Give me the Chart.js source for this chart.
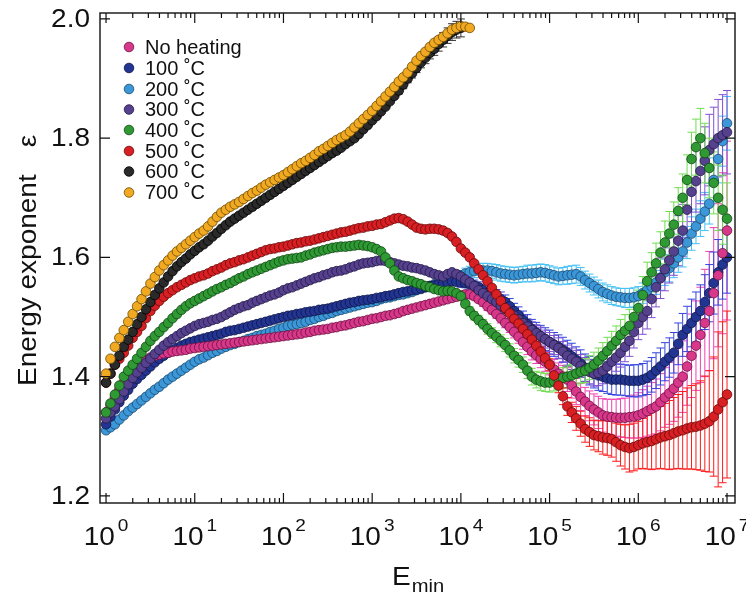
<!DOCTYPE html>
<html><head><meta charset="utf-8">
<script src="https://cdn.jsdelivr.net/npm/chart.js@4.4.0/dist/chart.umd.min.js"></script>
<style>html,body{margin:0;padding:0;background:#fff;}#wrap{width:746px;height:597px;}</style>
</head><body><div id="wrap"><canvas id="c" width="746" height="597"></canvas></div>
<script>
// log10 of E_min sampling grid
const logEmin = [
0,0.05,0.1,0.15,0.2,0.25,0.3,0.35,0.4,0.45,0.5,0.55,0.6,0.65,0.7,0.75,0.8,0.85,0.9,0.95,
1,1.05,1.1,1.15,1.2,1.25,1.3,1.35,1.4,1.45,1.5,1.55,1.6,1.65,1.7,1.75,1.8,1.85,1.9,1.95,
2,2.05,2.1,2.15,2.2,2.25,2.3,2.35,2.4,2.45,2.5,2.55,2.6,2.65,2.7,2.75,2.8,2.85,2.9,2.95,
3,3.05,3.1,3.15,3.2,3.25,3.3,3.35,3.4,3.45,3.5,3.55,3.6,3.65,3.7,3.75,3.8,3.85,3.9,3.95,
4,4.05,4.1,4.15,4.2,4.25,4.3,4.35,4.4,4.45,4.5,4.55,4.6,4.65,4.7,4.75,4.8,4.85,4.9,4.95,
5,5.05,5.1,5.15,5.2,5.25,5.3,5.35,5.4,5.45,5.5,5.55,5.6,5.65,5.7,5.75,5.8,5.85,5.9,5.95,
6,6.05,6.1,6.15,6.2,6.25,6.3,6.35,6.4,6.45,6.5,6.55,6.6,6.65,6.7,6.75,6.8,6.85,6.9,6.95,
7];

const seriesNames = ["No heating","100 \u02DAC","200 \u02DAC","300 \u02DAC","400 \u02DAC","500 \u02DAC","600 \u02DAC","700 \u02DAC"];

const noHeating = [
1.34,1.352,1.365,1.378,1.39,1.4,1.41,1.416,1.422,1.427,1.432,1.435,1.437,1.439,1.44,1.442,1.443,1.444,1.445,1.447,
1.448,1.449,1.45,1.451,1.452,1.453,1.454,1.455,1.456,1.457,1.458,1.459,1.46,1.461,1.462,1.463,1.464,1.465,1.466,1.467,
1.468,1.469,1.47,1.471,1.472,1.474,1.475,1.477,1.478,1.479,1.48,1.482,1.483,1.485,1.486,1.488,1.49,1.492,1.493,1.495,
1.497,1.498,1.5,1.502,1.503,1.505,1.507,1.51,1.512,1.514,1.516,1.518,1.52,1.522,1.524,1.526,1.528,1.53,1.532,1.534,
1.536,1.538,1.538,1.535,1.53,1.525,1.518,1.512,1.505,1.498,1.49,1.483,1.475,1.467,1.458,1.45,1.442,1.436,1.43,1.425,
1.42,1.412,1.405,1.4,1.395,1.385,1.375,1.366,1.358,1.351,1.345,1.34,1.335,1.333,1.332,1.331,1.331,1.331,1.332,1.333,
1.335,1.338,1.342,1.346,1.35,1.357,1.365,1.372,1.38,1.39,1.4,1.417,1.435,1.452,1.47,1.49,1.51,1.54,1.57,1.607,
1.645];
const c100 = [
1.32,1.333,1.345,1.357,1.368,1.378,1.388,1.396,1.403,1.41,1.417,1.424,1.43,1.435,1.44,1.444,1.448,1.452,1.455,1.458,
1.46,1.462,1.464,1.466,1.468,1.47,1.472,1.475,1.477,1.478,1.48,1.482,1.484,1.486,1.488,1.49,1.492,1.494,1.496,1.498,
1.5,1.502,1.503,1.505,1.506,1.508,1.509,1.51,1.512,1.513,1.514,1.516,1.518,1.52,1.522,1.524,1.525,1.527,1.528,1.529,
1.53,1.532,1.533,1.535,1.536,1.538,1.54,1.542,1.543,1.545,1.546,1.548,1.55,1.552,1.553,1.555,1.556,1.558,1.56,1.559,
1.558,1.557,1.555,1.553,1.55,1.545,1.54,1.538,1.535,1.53,1.525,1.518,1.51,1.503,1.495,1.488,1.48,1.474,1.468,1.463,
1.458,1.454,1.45,1.445,1.44,1.434,1.428,1.422,1.415,1.41,1.405,1.402,1.4,1.397,1.395,1.395,1.395,1.394,1.393,1.393,
1.393,1.395,1.398,1.403,1.41,1.417,1.425,1.432,1.44,1.455,1.47,1.48,1.49,1.5,1.51,1.525,1.54,1.557,1.575,1.588,
1.6];
const c200 = [
1.31,1.315,1.32,1.328,1.335,1.342,1.348,1.354,1.36,1.366,1.372,1.378,1.383,1.389,1.395,1.4,1.405,1.41,1.415,1.42,
1.425,1.429,1.432,1.436,1.44,1.443,1.447,1.45,1.453,1.455,1.458,1.46,1.463,1.465,1.468,1.47,1.472,1.475,1.477,1.48,
1.482,1.485,1.487,1.488,1.49,1.492,1.495,1.497,1.5,1.502,1.505,1.507,1.51,1.512,1.514,1.516,1.518,1.52,1.522,1.524,
1.525,1.527,1.53,1.532,1.533,1.535,1.537,1.538,1.54,1.542,1.545,1.547,1.55,1.552,1.555,1.557,1.56,1.562,1.565,1.567,
1.57,1.573,1.575,1.577,1.578,1.578,1.578,1.577,1.575,1.573,1.572,1.571,1.57,1.571,1.572,1.573,1.573,1.574,1.575,1.574,
1.572,1.57,1.568,1.569,1.57,1.571,1.572,1.568,1.562,1.557,1.552,1.547,1.542,1.539,1.536,1.534,1.533,1.532,1.532,1.533,
1.535,1.54,1.545,1.551,1.558,1.566,1.575,1.582,1.59,1.6,1.61,1.625,1.64,1.652,1.665,1.677,1.69,1.73,1.765,1.795,
1.825];
const c300 = [
1.33,1.34,1.35,1.362,1.375,1.387,1.398,1.407,1.415,1.423,1.43,1.438,1.445,1.452,1.458,1.463,1.468,1.473,1.477,1.481,
1.485,1.488,1.49,1.492,1.495,1.497,1.5,1.504,1.508,1.512,1.515,1.518,1.52,1.524,1.527,1.53,1.533,1.536,1.538,1.541,
1.545,1.548,1.55,1.553,1.556,1.559,1.562,1.565,1.567,1.57,1.572,1.575,1.577,1.578,1.58,1.583,1.585,1.588,1.59,1.591,
1.592,1.594,1.595,1.594,1.592,1.59,1.588,1.586,1.585,1.583,1.582,1.58,1.578,1.575,1.572,1.57,1.568,1.572,1.575,1.572,
1.568,1.563,1.558,1.552,1.545,1.54,1.535,1.53,1.525,1.519,1.513,1.508,1.502,1.496,1.49,1.484,1.478,1.473,1.468,1.463,
1.458,1.453,1.448,1.442,1.435,1.43,1.425,1.418,1.412,1.408,1.405,1.406,1.41,1.417,1.425,1.432,1.44,1.45,1.46,1.475,
1.49,1.5,1.51,1.53,1.55,1.565,1.58,1.595,1.61,1.628,1.645,1.68,1.71,1.728,1.745,1.762,1.78,1.79,1.8,1.805,
1.81];
const c400 = [
1.34,1.355,1.37,1.385,1.4,1.41,1.42,1.43,1.44,1.45,1.46,1.468,1.475,1.483,1.49,1.498,1.505,1.512,1.518,1.523,
1.527,1.531,1.535,1.539,1.543,1.547,1.55,1.554,1.557,1.561,1.565,1.568,1.572,1.575,1.578,1.581,1.584,1.587,1.59,1.593,
1.595,1.597,1.598,1.599,1.6,1.603,1.605,1.608,1.61,1.612,1.614,1.616,1.617,1.618,1.618,1.619,1.62,1.621,1.62,1.619,
1.617,1.614,1.61,1.6,1.59,1.578,1.568,1.565,1.562,1.56,1.557,1.555,1.552,1.55,1.547,1.545,1.543,1.544,1.543,1.54,
1.535,1.522,1.51,1.502,1.495,1.488,1.48,1.473,1.467,1.46,1.453,1.444,1.435,1.428,1.42,1.41,1.4,1.395,1.392,1.39,
1.39,1.392,1.395,1.398,1.4,1.402,1.405,1.408,1.41,1.415,1.42,1.427,1.435,1.443,1.452,1.46,1.47,1.477,1.485,1.5,
1.515,1.537,1.56,1.575,1.59,1.608,1.625,1.64,1.655,1.678,1.7,1.73,1.765,1.785,1.8,1.775,1.75,1.725,1.7,1.68,
1.665];
const c500 = [
1.39,1.405,1.42,1.43,1.44,1.452,1.465,1.475,1.485,1.498,1.51,1.519,1.527,1.534,1.54,1.545,1.55,1.554,1.558,1.562,
1.565,1.568,1.57,1.573,1.577,1.58,1.583,1.587,1.59,1.592,1.595,1.597,1.6,1.603,1.606,1.609,1.612,1.614,1.615,1.617,
1.618,1.62,1.622,1.624,1.625,1.627,1.628,1.63,1.632,1.634,1.636,1.638,1.64,1.642,1.643,1.645,1.647,1.649,1.65,1.652,
1.653,1.655,1.656,1.659,1.662,1.665,1.666,1.664,1.66,1.655,1.65,1.648,1.647,1.648,1.648,1.647,1.645,1.641,1.635,1.626,
1.615,1.608,1.6,1.59,1.58,1.57,1.56,1.549,1.538,1.527,1.515,1.506,1.497,1.489,1.48,1.471,1.462,1.452,1.442,1.431,
1.42,1.402,1.385,1.367,1.35,1.34,1.33,1.321,1.312,1.307,1.302,1.3,1.298,1.297,1.295,1.29,1.285,1.282,1.28,1.282,
1.285,1.288,1.29,1.292,1.295,1.298,1.3,1.302,1.305,1.308,1.31,1.313,1.315,1.316,1.318,1.321,1.325,1.333,1.345,1.357,
1.37];
const c600 = [
1.39,1.405,1.42,1.435,1.45,1.462,1.475,1.488,1.5,1.513,1.525,1.537,1.548,1.558,1.568,1.577,1.585,1.592,1.598,1.605,
1.611,1.617,1.622,1.628,1.635,1.641,1.648,1.654,1.66,1.665,1.67,1.675,1.68,1.685,1.69,1.695,1.7,1.705,1.71,1.715,
1.72,1.725,1.73,1.735,1.74,1.745,1.75,1.755,1.76,1.765,1.77,1.775,1.779,1.784,1.79,1.795,1.8,1.807,1.815,1.822,
1.83,1.837,1.845,1.853,1.862,1.871,1.88,1.89,1.9,1.909,1.918,1.927,1.935,1.943,1.95,1.958,1.965,1.972,1.978,1.982,
1.985];
const c700 = [
1.405,1.43,1.45,1.465,1.478,1.492,1.505,1.518,1.53,1.543,1.556,1.567,1.578,1.587,1.595,1.603,1.61,1.616,1.622,1.628,
1.634,1.64,1.645,1.652,1.66,1.668,1.675,1.68,1.685,1.689,1.693,1.698,1.703,1.708,1.712,1.717,1.722,1.726,1.73,1.734,
1.738,1.743,1.748,1.753,1.758,1.762,1.767,1.772,1.778,1.782,1.787,1.792,1.797,1.801,1.805,1.811,1.818,1.825,1.832,1.839,
1.846,1.854,1.862,1.87,1.878,1.886,1.895,1.902,1.91,1.92,1.93,1.938,1.945,1.953,1.96,1.965,1.97,1.976,1.982,1.985,
1.988,1.987,1.985];

// error bar half-lengths, aligned with the LAST points of each series
const errNoHeating = [
0.006,0.006,0.006,0.006,0.006,0.007,0.007,0.007,0.007,0.008,0.008,0.009,0.01,0.011,0.012,0.013,0.014,0.014,0.015,0.016,
0.017,0.017,0.018,0.019,0.02,0.021,0.022,0.023,0.024,0.025,0.026,0.027,0.028,0.029,0.03,0.031,0.032,0.033,0.035,0.036,
0.038,0.04,0.042,0.044,0.046,0.048,0.05,0.052,0.055,0.058,0.06,0.065,0.07,0.075,0.08,0.09,0.1,0.11,0.12,0.135,0.15];
const err100 = [
0.008,0.008,0.008,0.009,0.009,0.01,0.01,0.011,0.011,0.012,0.012,0.013,0.013,0.014,0.015,0.016,0.016,0.017,0.018,0.019,
0.02,0.02,0.02,0.021,0.021,0.022,0.022,0.023,0.023,0.024,0.024,0.025,0.025,0.025,0.025,0.026,0.026,0.026,0.026,0.027,
0.027,0.027,0.028,0.029,0.03,0.031,0.032,0.033,0.034,0.035,0.036,0.038,0.04,0.042,0.044,0.046,0.048,0.052,0.055,0.058,0.06];
const err200 = [
0.008,0.009,0.01,0.011,0.012,0.012,0.012,0.012,0.013,0.013,0.013,0.013,0.013,0.013,0.013,0.014,0.014,0.014,0.014,0.014,
0.014,0.014,0.014,0.014,0.015,0.015,0.015,0.015,0.015,0.015,0.015,0.015,0.015,0.015,0.015,0.015,0.015,0.016,0.016,0.016,
0.016,0.017,0.018,0.019,0.02,0.021,0.022,0.023,0.024,0.025,0.026,0.027,0.028,0.029,0.03,0.032,0.034,0.037,0.04,0.042,0.045];
const err300 = [
0.006,0.006,0.007,0.007,0.008,0.008,0.009,0.009,0.01,0.01,0.011,0.011,0.012,0.012,0.013,0.013,0.014,0.014,0.015,0.015,
0.016,0.016,0.017,0.017,0.018,0.018,0.019,0.019,0.02,0.02,0.021,0.021,0.022,0.022,0.023,0.023,0.024,0.025,0.026,0.027,
0.028,0.029,0.03,0.031,0.033,0.034,0.036,0.038,0.04,0.042,0.044,0.047,0.05,0.052,0.055,0.057,0.06,0.062,0.065,0.068,0.07];
const err400 = [
0.006,0.006,0.007,0.007,0.008,0.008,0.009,0.009,0.01,0.01,0.011,0.011,0.012,0.012,0.013,0.013,0.014,0.014,0.015,0.015,
0.016,0.016,0.017,0.017,0.018,0.018,0.019,0.019,0.02,0.02,0.021,0.021,0.022,0.023,0.024,0.025,0.026,0.027,0.028,0.029,
0.03,0.031,0.032,0.033,0.034,0.035,0.036,0.037,0.038,0.039,0.04,0.042,0.045,0.047,0.05,0.05,0.05,0.052,0.055,0.058,0.06];
const err500 = [
0.004,0.004,0.004,0.004,0.004,0.004,0.004,0.004,0.005,0.005,0.005,0.005,0.006,0.006,0.006,0.006,0.007,0.007,0.008,0.009,
0.01,0.011,0.012,0.014,0.015,0.017,0.02,0.021,0.022,0.024,0.025,0.026,0.028,0.029,0.03,0.032,0.035,0.037,0.04,0.04,
0.04,0.042,0.045,0.048,0.05,0.052,0.055,0.058,0.06,0.062,0.065,0.068,0.07,0.072,0.075,0.08,0.085,0.1,0.13,0.135,0.14];
const err600 = [0.006,0.007,0.007,0.008,0.008,0.009,0.01,0.01,0.011,0.012,0.012,0.013,0.014,0.014,0.015];
const err700 = [];

const yTicks = [1.2,1.4,1.6,1.8,2.0];
const xTickExp = [0,1,2,3,4,5,6,7];

const allSeries = [noHeating,c100,c200,c300,c400,c500,c600,c700];
const allErr = [errNoHeating,err100,err200,err300,err400,err500,err600,err700];
const fillCol = ["#d8388a","#233592","#3b97d8","#56418f","#2f9a34","#d81f24","#2a2a2a","#f2a922"];
const edgeCol = ["#6a1040","#0e1545","#1a4a70","#241a45","#134515","#6a0a0a","#000000","#6a4a00"];
const barCol  = ["#f040b0","#3344dd","#45c0f5","#8050d0","#70dd50","#ff1a1a","#333333","#c08a10"];
const drawOrder = [5,6,7,4,3,2,1,0];

const datasets = allSeries.map((s,k)=>({
  label: seriesNames[k],
  data: s.map((v,i)=>({x: Math.pow(10, logEmin[i]), y: v})),
  backgroundColor: fillCol[k], borderColor: edgeCol[k], borderWidth: 0.8,
  pointRadius: 4.8, showLine: false, order: drawOrder[k]
}));

function sText(ctx, s, x, y, font, align, sx){
  ctx.save(); ctx.font = font;
  const w = ctx.measureText(s).width * sx;
  const x0 = align==='center' ? x - w/2 : align==='right' ? x - w : x;
  ctx.translate(x0, y); ctx.scale(sx,1); ctx.textAlign='left'; ctx.fillText(s,0,0);
  ctx.restore(); return w;
}

const errPlugin = {
  id:'errbars',
  beforeDatasetsDraw(chart){
    const ctx = chart.ctx, xs = chart.scales.x, ys = chart.scales.y, a = chart.chartArea;
    ctx.save(); ctx.beginPath(); ctx.rect(a.left,a.top,a.right-a.left,a.bottom-a.top); ctx.clip();
    ctx.lineWidth = 1;
    allSeries.forEach((s,k)=>{
      const e = allErr[k]; const off = s.length - e.length;
      ctx.strokeStyle = barCol[k];
      for(let j=0;j<e.length;j++){
        const i = off + j;
        const px = xs.getPixelForValue(Math.pow(10, logEmin[i]));
        const pt = ys.getPixelForValue(s[i] + e[j]);
        const pb = ys.getPixelForValue(s[i] - e[j]);
        ctx.beginPath();
        ctx.moveTo(px, pt); ctx.lineTo(px, pb);
        ctx.moveTo(px-4, pt); ctx.lineTo(px+4, pt);
        ctx.moveTo(px-4, pb); ctx.lineTo(px+4, pb);
        ctx.stroke();
      }
    });
    ctx.restore();
  }
};

const framePlugin = {
  id:'frame',
  afterDraw(chart){
    const ctx = chart.ctx, xs = chart.scales.x, ys = chart.scales.y, a = chart.chartArea;
    ctx.save();
    ctx.strokeStyle = '#111'; ctx.lineWidth = 1.4;
    ctx.strokeRect(a.left, a.top, a.right-a.left, a.bottom-a.top);
    ctx.lineWidth = 1.2;
    ctx.beginPath();
    xTickExp.forEach(p=>{
      for(let m=1;m<=9;m++){
        if(p===7 && m>1) break;
        const px = xs.getPixelForValue(m*Math.pow(10,p));
        const L = m===1 ? 10 : 5;
        ctx.moveTo(px, a.bottom); ctx.lineTo(px, a.bottom-L);
        ctx.moveTo(px, a.top); ctx.lineTo(px, a.top+L);
      }
    });
    yTicks.forEach(v=>{
      const py = ys.getPixelForValue(v);
      ctx.moveTo(a.left, py); ctx.lineTo(a.left+10, py);
      ctx.moveTo(a.right, py); ctx.lineTo(a.right-10, py);
    });
    ctx.stroke();

    ctx.fillStyle = '#111';
    ctx.textBaseline = 'middle';
    yTicks.forEach(v=>{
      const py = ys.getPixelForValue(v);
      sText(ctx, v.toFixed(1), a.left-10, py+1, '25px "Liberation Sans"', 'right', 1.12);
    });
    ctx.textBaseline = 'alphabetic';
    xTickExp.forEach(p=>{
      const px = xs.getPixelForValue(Math.pow(10,p));
      ctx.font = '25px "Liberation Sans"';
      const wb = ctx.measureText('10').width*1.12;
      ctx.font = '17px "Liberation Sans"';
      const we = ctx.measureText(String(p)).width*1.12;
      const x0 = px - (wb + 3 + we)/2;
      sText(ctx, '10', x0, 545, '25px "Liberation Sans"', 'left', 1.12);
      sText(ctx, String(p), x0+wb+3, 531, '17px "Liberation Sans"', 'left', 1.12);
    });
    const wE = sText(ctx, 'E', 392, 585, '25px "Liberation Sans"', 'left', 1.12);
    sText(ctx, 'min', 392+wE+1, 592, '18px "Liberation Sans"', 'left', 1.12);
    ctx.save();
    ctx.translate(36, 386); ctx.rotate(-Math.PI/2);
    const wt = sText(ctx, 'Energy exponent', 0, 0, '25px "Liberation Sans"', 'left', 1.12);
    sText(ctx, '\u03B5', wt+27, 0, '25px "Liberation Sans"', 'left', 1.12);
    ctx.restore();

    const rows = [47,68,89,109.5,130,151,171.5,192.5];
    seriesNames.forEach((n,k)=>{
      ctx.beginPath(); ctx.arc(129, rows[k], 4.8, 0, Math.PI*2);
      ctx.fillStyle = fillCol[k]; ctx.fill();
      ctx.lineWidth = 0.8; ctx.strokeStyle = edgeCol[k]; ctx.stroke();
      ctx.fillStyle = '#111'; ctx.font = '20px "Liberation Sans"';
      ctx.textBaseline = 'middle'; ctx.textAlign = 'left';
      ctx.fillText(n, 145, rows[k]+1);
    });
    ctx.restore();
  }
};

new Chart(document.getElementById('c'), {
  type: 'scatter',
  data: { datasets },
  options: {
    responsive: false, animation: false, events: [],
    layout: { padding: { top: 13, right: 11, left: 0, bottom: 0 } },
    plugins: { legend: { display: false }, tooltip: { enabled: false } },
    scales: {
      x: { type: 'logarithmic', min: Math.pow(10,-0.068), max: Math.pow(10,7.09),
           grid: { display: false }, border: { display: false }, ticks: { display: false },
           afterFit(s){ s.height = 94; } },
      y: { type: 'linear', min: 1.188, max: 2.010,
           grid: { display: false }, border: { display: false }, ticks: { display: false },
           afterFit(s){ s.width = 100; } }
    }
  },
  plugins: [errPlugin, framePlugin]
});
</script>
</body></html>
